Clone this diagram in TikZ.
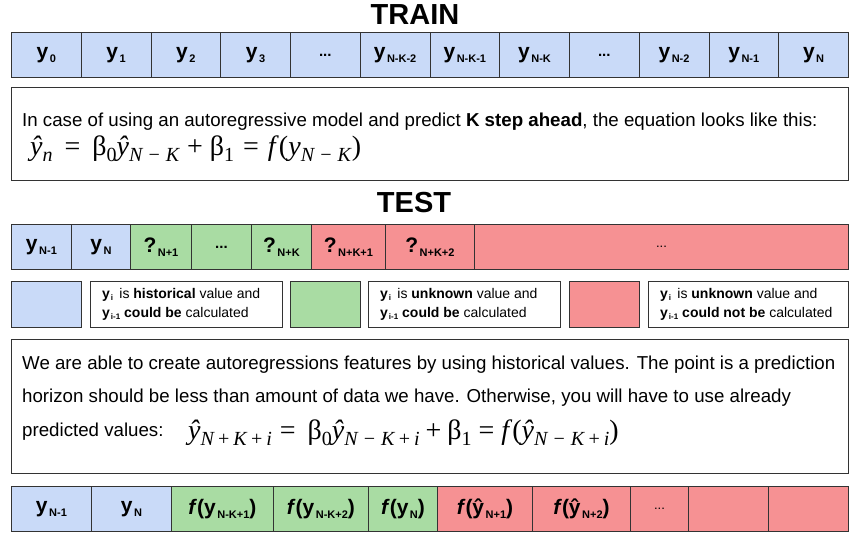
\documentclass[tikz,border=0pt]{standalone}
\usepackage[no-math]{fontspec}
\setmainfont{Liberation Sans}
\newfontfamily\tms{Liberation Serif}
\definecolor{cblue}{HTML}{C9DAF8}
\definecolor{cgreen}{HTML}{A9DCA3}
\definecolor{cpink}{HTML}{F69193}
\definecolor{cline}{HTML}{333333}
\newcommand{\sbs}[1]{\hspace{1.5pt}\raisebox{-4pt}{\fontsize{11}{11}\selectfont\bfseries #1}}
\newcommand{\lsb}[1]{\hspace{1pt}\raisebox{-2.5pt}{\fontsize{8}{8}\selectfont\bfseries #1}}
\newcommand{\fit}{\textbf{\textit{f}}}
\newcommand{\es}[1]{\raisebox{-0.22em}{\fontsize{20}{20}\selectfont #1}}
\newcommand{\mn}{\kern5pt−\kern5pt}
\newcommand{\pl}{\kern3pt+\kern3pt}
\tikzset{
  cellbox/.style={draw=cline, line width=0.9pt, inner sep=0pt, anchor=north west,
    minimum height=45pt, font=\fontsize{21}{21}\selectfont\bfseries},
  bluecell/.style={cellbox, fill=cblue},
  greencell/.style={cellbox, fill=cgreen},
  pinkcell/.style={cellbox, fill=cpink},
  textbox/.style={draw=cline, line width=0.9pt, inner sep=0pt, anchor=north west, fill=white},
  legbox/.style={draw=cline, line width=0.9pt, inner sep=0pt, anchor=north west, minimum height=46pt},
  legtext/.style={anchor=west, inner sep=0pt, align=left, font=\fontsize{14}{19}\selectfont},
  bodytext/.style={anchor=base west, inner sep=0pt, font=\fontsize{18.7}{18.7}\selectfont},
  eqtext/.style={anchor=base west, inner sep=0pt, font=\tms\fontsize{28}{28}\selectfont},
  titletext/.style={inner sep=0pt, font=\fontsize{29}{29}\selectfont\bfseries},
  dots/.style={font=\fontsize{15}{15}\selectfont\bfseries}
}
\begin{document}
\begin{tikzpicture}[x=1pt,y=-1pt]
\useasboundingbox (0,0) rectangle (855,541);

% TRAIN
\node[titletext] (train) at (415,15) {TRAIN};
\node[bluecell, minimum width=69.75pt] (tr0) at (11,32) {y\sbs{0}};
\node[bluecell, minimum width=69.75pt] (tr1) at (80.75,32) {y\sbs{1}};
\node[bluecell, minimum width=69.75pt] (tr2) at (150.5,32) {y\sbs{2}};
\node[bluecell, minimum width=69.75pt] (tr3) at (220.25,32) {y\sbs{3}};
\node[bluecell, minimum width=69.75pt, dots] (tr4) at (290,32) {...};
\node[bluecell, minimum width=69.75pt] (tr5) at (359.75,32) {y\sbs{N-K-2}};
\node[bluecell, minimum width=69.75pt] (tr6) at (429.5,32) {y\sbs{N-K-1}};
\node[bluecell, minimum width=69.75pt] (tr7) at (499.25,32) {y\sbs{N-K}};
\node[bluecell, minimum width=69.75pt, dots] (tr8) at (569,32) {...};
\node[bluecell, minimum width=69.75pt] (tr9) at (638.75,32) {y\sbs{N-2}};
\node[bluecell, minimum width=69.75pt] (tr10) at (708.5,32) {y\sbs{N-1}};
\node[bluecell, minimum width=69.75pt] (tr11) at (778.25,32) {y\sbs{N}};

% box 1
\node[textbox, minimum width=837pt, minimum height=93pt] (box1) at (11,87) {};
\node[bodytext] (b1l1) at (22,126) {In case of using an autoregressive model and predict \textbf{K step ahead}, the equation looks like this:};
\node[eqtext] (eq1) at (30,155) {\textit{ŷ}\es{\textit{n}}\hspace{12pt}=\hspace{12pt}β\es{0}\textit{ŷ}\es{\textit{N\mn K}}\hspace{7pt}+\hspace{7pt}β\es{1}\hspace{9pt}=\hspace{9pt}\textit{f}(\textit{y}\es{\textit{N\mn K}})};

% TEST
\node[titletext] (test) at (414,203) {TEST};
\node[bluecell, minimum width=60pt] (te0) at (11,224) {y\sbs{N-1}};
\node[bluecell, minimum width=59pt] (te1) at (71,224) {y\sbs{N}};
\node[greencell, minimum width=61pt] (te2) at (130,224) {?\sbs{N+1}};
\node[greencell, minimum width=60pt, dots] (te3) at (191,224) {...};
\node[greencell, minimum width=60pt] (te4) at (251,224) {?\sbs{N+K}};
\node[pinkcell, minimum width=74pt] (te5) at (311,224) {?\sbs{N+K+1}};
\node[pinkcell, minimum width=89pt] (te6) at (385,224) {?\sbs{N+K+2}};
\node[pinkcell, minimum width=374pt, font=\fontsize{13}{13}\selectfont] (te7) at (474,224) {...};

% legend
\node[legbox, fill=cblue, minimum width=70pt] (lg1) at (11,281) {};
\node[legbox, fill=white, minimum width=192pt] (lg2) at (90,281) {};
\node[legtext] (lt1) at (102,304) {\textbf{y}\lsb{i}\, is \textbf{historical} value and\\\textbf{y}\lsb{i-1} \textbf{could be} calculated};
\node[legbox, fill=cgreen, minimum width=70pt] (lg3) at (290,281) {};
\node[legbox, fill=white, minimum width=192pt] (lg4) at (368,281) {};
\node[legtext] (lt2) at (380,304) {\textbf{y}\lsb{i}\, is \textbf{unknown} value and\\\textbf{y}\lsb{i-1} \textbf{could be} calculated};
\node[legbox, fill=cpink, minimum width=70pt] (lg5) at (569,281) {};
\node[legbox, fill=white, minimum width=200pt] (lg6) at (648,281) {};
\node[legtext] (lt3) at (660,304) {\textbf{y}\lsb{i}\, is \textbf{unknown} value and\\\textbf{y}\lsb{i-1} \textbf{could not be} calculated};

% box 2
\node[textbox, minimum width=837pt, minimum height=134pt] (box2) at (11,339) {};
\node[bodytext] (b2l1) at (22,369) {We are able to create autoregressions features by using historical values. The point is a prediction};
\node[bodytext] (b2l2) at (22,402) {horizon should be less than amount of data we have. Otherwise, you will have to use already};
\node[bodytext] (b2l3) at (22,436) {predicted values:};
\node[eqtext] (eq2) at (188,439) {\textit{ŷ}\es{\textit{N\pl K\pl i}}\hspace{8pt}=\hspace{12pt}β\es{0}\textit{ŷ}\es{\textit{N\mn K\pl i}}\hspace{6pt}+\hspace{6pt}β\es{1}\hspace{7pt}=\hspace{7pt}\textit{f}(\textit{ŷ}\es{\textit{N\mn K\pl i}})};

% bottom row
\node[bluecell, minimum width=80pt] (bo0) at (11,486) {y\sbs{N-1}};
\node[bluecell, minimum width=80pt] (bo1) at (91,486) {y\sbs{N}};
\node[greencell, minimum width=102pt] (bo2) at (171,486) {\fit(y\sbs{N-K+1})};
\node[greencell, minimum width=95pt] (bo3) at (273,486) {\fit(y\sbs{N-K+2})};
\node[greencell, minimum width=69pt] (bo4) at (368,486) {\fit(y\sbs{N})};
\node[pinkcell, minimum width=95pt] (bo5) at (437,486) {\fit(ŷ\sbs{N+1})};
\node[pinkcell, minimum width=98pt] (bo6) at (532,486) {\fit(ŷ\sbs{N+2})};
\node[pinkcell, minimum width=58pt, font=\fontsize{13}{13}\selectfont] (bo7) at (630,486) {...};
\node[pinkcell, minimum width=80pt] (bo8) at (688,486) {};
\node[pinkcell, minimum width=80pt] (bo9) at (768,486) {};
\end{tikzpicture}
\end{document}
